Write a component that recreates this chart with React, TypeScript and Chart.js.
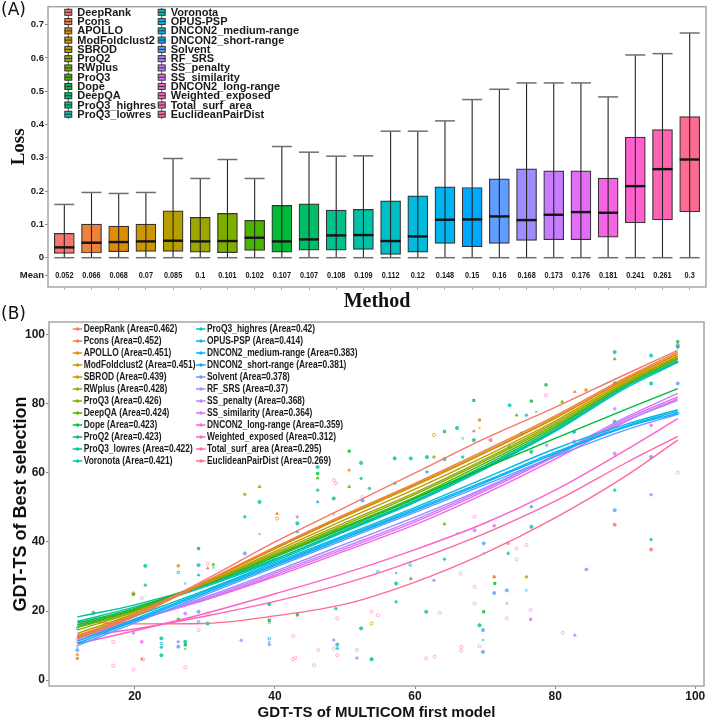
import React, { useEffect, useRef } from 'react';
import { Chart, registerables } from 'chart.js';

Chart.register(...registerables);

// ---------------- Panel A data ----------------
const methodsA = ['DeepRank', 'Pcons', 'APOLLO', 'ModFoldclust2', 'SBROD', 'ProQ2', 'RWplus', 'ProQ3', 'Dope', 'DeepQA', 'ProQ3_highres', 'ProQ3_lowres', 'Voronota', 'OPUS-PSP', 'DNCON2_medium-range', 'DNCON2_short-range', 'Solvent', 'RF_SRS', 'SS_penalty', 'SS_similarity', 'DNCON2_long-range', 'Weighted_exposed', 'Total_surf_area', 'EuclideanPairDist'];
const meanLoss = [0.052, 0.066, 0.068, 0.07, 0.085, 0.1, 0.101, 0.102, 0.107, 0.107, 0.108, 0.109, 0.112, 0.12, 0.148, 0.15, 0.16, 0.168, 0.173, 0.176, 0.181, 0.241, 0.261, 0.3];
const whiskerLow = [0, 0, 0, 0, 0, 0, 0, 0, 0, 0, 0, 0, 0, 0, 0, 0, 0, 0, 0, 0, 0, 0, 0, 0];
const q1Loss = [0.013, 0.014, 0.018, 0.019, 0.019, 0.017, 0.015, 0.022, 0.017, 0.023, 0.023, 0.025, 0.010, 0.017, 0.043, 0.033, 0.043, 0.052, 0.054, 0.054, 0.062, 0.105, 0.114, 0.138];
const medianLoss = [0.031, 0.045, 0.047, 0.049, 0.051, 0.049, 0.05, 0.06, 0.049, 0.055, 0.067, 0.068, 0.05, 0.064, 0.114, 0.115, 0.124, 0.113, 0.129, 0.137, 0.135, 0.215, 0.266, 0.295];
const q3Loss = [0.073, 0.101, 0.095, 0.101, 0.141, 0.121, 0.133, 0.112, 0.157, 0.162, 0.143, 0.145, 0.171, 0.186, 0.213, 0.211, 0.237, 0.267, 0.261, 0.261, 0.239, 0.362, 0.385, 0.424];
const whiskerHigh = [0.16, 0.196, 0.193, 0.196, 0.298, 0.238, 0.295, 0.238, 0.334, 0.317, 0.305, 0.306, 0.38, 0.38, 0.411, 0.475, 0.506, 0.525, 0.525, 0.525, 0.483, 0.609, 0.613, 0.675];
const yTickValuesA = [-0.054, 0, 0.1, 0.2, 0.3, 0.4, 0.5, 0.6, 0.7];
const yTickLabelsA = ['Mean', '0', '0.1', '0.2', '0.3', '0.4', '0.5', '0.6', '0.7'];

// ---------------- Panel B data ----------------
const methodsB = ['DeepRank', 'Pcons', 'APOLLO', 'ModFoldclust2', 'SBROD', 'RWplus', 'ProQ3', 'DeepQA', 'Dope', 'ProQ2', 'ProQ3_lowres', 'Voronota', 'ProQ3_highres', 'OPUS-PSP', 'DNCON2_medium-range', 'DNCON2_short-range', 'Solvent', 'RF_SRS', 'SS_penalty', 'SS_similarity', 'DNCON2_long-range', 'Weighted_exposed', 'Total_surf_area', 'EuclideanPairDist'];
const areasB = [0.462, 0.452, 0.451, 0.451, 0.439, 0.428, 0.426, 0.424, 0.423, 0.423, 0.422, 0.421, 0.42, 0.414, 0.383, 0.381, 0.378, 0.37, 0.368, 0.364, 0.359, 0.312, 0.295, 0.269];
const curveX = [11.8, 20, 30, 40, 50, 60, 70, 80, 90, 97.5];
const curveY: number[][] = [
  [12.5, 19, 29, 40, 50, 60, 70, 79, 88.5, 95.5],
  [12.0, 18.5, 28.5, 38.5, 48, 57, 66.5, 76.5, 87.5, 95],
  [12.2, 18.5, 28.3, 38.2, 47.6, 56.6, 66, 76, 87, 94.5],
  [12.8, 19, 28.3, 38, 47.4, 56.3, 65.8, 75.8, 87, 94.3],
  [13.5, 19.3, 28, 37.3, 46.5, 55.3, 64.8, 75, 86.5, 93.8],
  [14.5, 19.8, 28, 36.8, 45.6, 54.3, 64, 74.5, 86, 93.5],
  [15.2, 20, 27.8, 36.3, 45, 53.8, 63.5, 74, 86, 93.5],
  [16, 20.5, 27.8, 36, 44.5, 53, 62.8, 73.5, 85.5, 93],
  [16.5, 20.8, 28, 36, 44.3, 52.8, 61.5, 70, 78.3, 84.4],
  [15.5, 20.3, 27.5, 35.6, 44, 52.5, 62.2, 73, 85.5, 93],
  [18.3, 21.8, 27.6, 35, 43.5, 52, 61.7, 72.5, 85, 92.5],
  [17, 21.2, 27.4, 35, 43.3, 51.8, 61.5, 72.3, 85, 92.2],
  [16, 20.5, 27, 34.5, 43, 51.5, 61.2, 72, 84.5, 92],
  [12.3, 18.5, 26, 34, 42, 50, 58.5, 67, 74, 78.3],
  [11.2, 17.7, 25.6, 33.6, 41.6, 49.5, 57.6, 66, 73.5, 77.8],
  [10.6, 17.2, 25.2, 33.2, 41.2, 49.1, 57.2, 65.6, 73.2, 77.3],
  [10, 16.6, 24.7, 32.7, 40.7, 48.6, 56.6, 64.8, 72.4, 77],
  [11.5, 17, 24, 31.5, 39.4, 47.2, 55.7, 65, 75, 81],
  [12, 17.2, 23.6, 31, 38.6, 46.4, 55.3, 65.3, 76, 83],
  [12.5, 17.2, 23.3, 30.5, 38, 45.8, 54.8, 64.8, 75.5, 82],
  [13, 17.5, 23.2, 30, 37.4, 45, 54, 64, 74.8, 81.5],
  [10.5, 14.3, 19.3, 25, 31, 37.8, 45.5, 55, 66.5, 75.7],
  [12.5, 14.8, 18.5, 22.8, 28, 34.7, 42.5, 51.8, 62.8, 70.6],
  [17, 16.3, 16.4, 18.6, 22, 28.4, 36.8, 47, 59, 69.5],
];
// [method index (methodsB), GDT-TS first model, GDT-TS best selection]
const scatterB: [number, number, number][] = [
  [2, 11.8, 6.3], [1, 11.8, 7.4], [16, 11.8, 8.7], [15, 11.8, 9.7], [22, 11.8, 12.1], [14, 11.8, 15], [21, 11.8, 11.2],
  [10, 14.1, 19.5], [22, 16.9, 4.2], [23, 16.9, 11.1],
  [22, 19.8, 3.1], [17, 19.8, 13.6], [4, 19.8, 25.1], [8, 19.8, 24.9],
  [1, 21, 6.1], [21, 21.2, 6], [20, 21, 11.1], [22, 21, 23.7], [10, 21.5, 33.1], [11, 21.5, 27.5],
  [10, 23.8, 12.1], [11, 23.8, 9.5], [10, 23.8, 7.2], [14, 23.8, 10.6],
  [2, 26.2, 33.1], [14, 26.2, 31.2], [8, 26.2, 17.6], [17, 26.2, 11.1], [16, 26.2, 9.7],
  [15, 27.2, 28], [18, 27.2, 19.3], [10, 27.2, 11.1], [9, 27.2, 9], [23, 27.2, 3.7], [8, 27.2, 10.2],
  [8, 29.1, 38.1], [12, 29.1, 33.3], [13, 29.1, 30.4], [16, 29.1, 19.8], [14, 29.1, 16.9], [21, 29.1, 14.5],
  [1, 30.4, 32.4], [22, 30.4, 33.8], [23, 30.4, 19.3], [10, 30.4, 16.4],
  [7, 31.2, 33.5], [9, 31.2, 32.6],
  [17, 35.2, 11.5], [5, 35.7, 53.8], [11, 35.7, 47.3], [16, 35.7, 36.7],
  [7, 37.8, 56], [10, 37.8, 51.6], [15, 37.8, 42.3],
  [1, 40.3, 48.2], [4, 40.3, 46.8], [8, 39.2, 17.3], [9, 39.2, 16.6], [14, 39.2, 12], [17, 39.2, 10.3], [15, 39.2, 11], [10, 39.2, 22], [22, 39.2, 18],
  [17, 43.2, 47.3], [10, 43.2, 45.4], [13, 43.2, 43], [15, 43.2, 41.4],
  [22, 42.6, 6], [21, 42.9, 6.5], [23, 42.6, 12.8], [3, 43.2, 18.5], [8, 43.2, 19],
  [10, 46.1, 61.7], [8, 46.1, 59.8], [7, 46.1, 58.5], [11, 46.1, 55], [13, 46.1, 51.6],
  [22, 45.6, 4.3], [21, 46.2, 8.7],
  [23, 48.4, 57.9], [22, 48.7, 57], [10, 48.4, 52.6], [9, 48.4, 48], [11, 48.4, 46.2],
  [17, 48.4, 11.6], [22, 48.4, 9.2], [12, 48.9, 10.3], [13, 48.9, 9.2], [22, 48.9, 7.2], [11, 48.7, 20.7], [21, 48.9, 17.9],
  [8, 50.6, 66.3], [1, 50.6, 60.8], [7, 50.6, 56],
  [10, 52.3, 62.9], [11, 52.3, 58.4], [21, 52.5, 53], [12, 52.5, 52],
  [21, 51.7, 8.7], [17, 51.7, 6.4], [10, 52.3, 15],
  [11, 53.5, 55.5], [23, 53.8, 19.8], [4, 53.8, 16.4], [9, 53.8, 6.3], [10, 53.8, 6],
  [14, 54.7, 31.4], [22, 54.7, 18.8],
  [10, 57.1, 64.2], [11, 57.1, 57], [9, 57.3, 31], [10, 57.3, 28], [11, 57.3, 22.7],
  [7, 59.4, 29.4], [12, 59.4, 64.2], [15, 59.3, 34.2], [14, 59.3, 33.3],
  [10, 61.7, 64.6], [11, 61.7, 60.3], [10, 61.6, 19.8], [22, 61.6, 6.3],
  [4, 62.7, 71], [5, 62.7, 64.6], [17, 62.7, 28.9], [22, 62.8, 6.8], [21, 63.5, 19.5],
  [8, 64.2, 72], [10, 64.2, 64], [7, 64.2, 45.2], [11, 64.2, 35],
  [10, 66, 73], [15, 66, 42.5], [22, 66.5, 30.9], [22, 66.6, 9.6], [23, 66.6, 8.5], [9, 66.8, 70], [11, 66.8, 64.6],
  [8, 68.4, 81], [1, 68.4, 72.1], [10, 68.4, 69.5], [21, 68.5, 47.3], [18, 68.5, 43.4], [22, 68.5, 27], [23, 68.5, 22.2],
  [2, 69.2, 75.3], [3, 69.2, 73], [10, 69.2, 15.9], [22, 69.2, 9.8], [16, 69.7, 14.5], [15, 69.7, 11.6], [16, 69.7, 8.2], [8, 69.8, 19.8], [16, 69.8, 39.6], [15, 69.8, 36.7],
  [0, 70.8, 69.5], [20, 71.3, 44.7], [2, 71.3, 29.9], [16, 71.3, 25.2], [8, 71.4, 28],
  [12, 73.5, 79.6], [16, 73.5, 67.5], [1, 73.3, 39.6], [11, 73.3, 36.7], [16, 73.1, 26], [15, 73.1, 22.2], [22, 73.1, 17.9],
  [7, 74.5, 76.7], [21, 74.5, 38.1], [22, 74.5, 35],
  [10, 75.2, 71.4], [11, 75.9, 76.7], [22, 75.9, 39.1], [5, 75.9, 29.9], [15, 75.9, 26],
  [8, 76.6, 80.8], [10, 76.6, 66.1], [11, 76.6, 50.2], [12, 76.6, 44.4], [20, 76.5, 17.6], [22, 76.5, 20.3],
  [9, 77.3, 77.7], [8, 78.7, 85.5], [22, 78.7, 82.5], [17, 78.8, 68],
  [7, 81, 80.6], [22, 81.1, 13.7], [17, 82.8, 13],
  [1, 82.8, 83.5], [12, 82.7, 71.9], [18, 82.7, 69],
  [2, 84.4, 84], [17, 84.5, 32.1], [19, 84.4, 32],
  [17, 88.5, 78.6], [10, 88.5, 74.8], [18, 88.5, 65.6], [11, 88.5, 55], [16, 88.5, 49.2], [0, 88.5, 45], [7, 88.5, 93], [10, 88.5, 95], [8, 88.5, 86],
  [10, 93.7, 85.9], [20, 93.7, 73.8], [16, 93.7, 64.6], [17, 93.7, 53.7], [11, 93.7, 40.7], [0, 93.7, 37.8], [12, 93.7, 94],
  [16, 97.5, 85.9], [14, 97.5, 77.2], [22, 97.5, 60.1], [8, 97.5, 98], [10, 97.5, 96.5], [18, 97.5, 97], [9, 97.5, 92],
];
const xTicksB = [20, 40, 60, 80, 100];
const yTicksB = [0, 20, 40, 60, 80, 100];

// ---------------- colours (ggplot hue palette) ----------------
function hclHex(h: number, c: number, l: number): string {
  const rad = (h * Math.PI) / 180;
  const U = c * Math.cos(rad);
  const V = c * Math.sin(rad);
  const Xn = 95.047, Yn = 100.0, Zn = 108.883;
  const den = Xn + 15 * Yn + 3 * Zn;
  const un = (4 * Xn) / den, vn = (9 * Yn) / den;
  const Y = Yn * (l > 7.999592 ? Math.pow((l + 16) / 116, 3) : l / 903.3);
  const u = U / (13 * l) + un;
  const v = V / (13 * l) + vn;
  const X = (9 * Y * u) / (4 * v);
  const Z = -X / 3 - 5 * Y + (3 * Y) / v;
  const x = X / 100, y = Y / 100, z = Z / 100;
  const rl = 3.240479 * x - 1.53715 * y - 0.498535 * z;
  const gl = -0.969256 * x + 1.875992 * y + 0.041556 * z;
  const bl = 0.055648 * x - 0.204043 * y + 1.057311 * z;
  const g = (t: number) => {
    const s = t <= 0.0031308 ? 12.92 * t : 1.055 * Math.pow(t, 1 / 2.4) - 0.055;
    return Math.round(Math.min(1, Math.max(0, s)) * 255);
  };
  return '#' + [g(rl), g(gl), g(bl)].map((n) => n.toString(16).padStart(2, '0')).join('');
}
const huePalette = (n: number) => Array.from({ length: n }, (_, i) => hclHex(15 + (360 * i) / n, 100, 65));
const withAlpha = (hex: string, a: number) => {
  const r = parseInt(hex.slice(1, 3), 16), g = parseInt(hex.slice(3, 5), 16), b = parseInt(hex.slice(5, 7), 16);
  return `rgba(${r},${g},${b},${a})`;
};

const NARROW = "'Liberation Sans Narrow', 'Liberation Sans', Arial, sans-serif";
const SANS = "'Liberation Sans', Arial, sans-serif";

function narrowText(ctx: CanvasRenderingContext2D, text: string, x: number, y: number, sx: number) {
  ctx.save();
  ctx.translate(x, y);
  ctx.scale(sx, 1);
  ctx.fillText(text, 0, 0);
  ctx.restore();
}

export default function App() {
  const refA = useRef<HTMLCanvasElement>(null);
  const refB = useRef<HTMLCanvasElement>(null);

  useEffect(() => {
    const colorsA = huePalette(methodsA.length);
    const colorsB = huePalette(methodsB.length);

    const boxPlugin = {
      id: 'boxExtras',
      beforeDatasetsDraw(chart: any) {
        const { ctx, chartArea } = chart;
        ctx.save();
        ctx.strokeStyle = '#a6a6a6';
        ctx.lineWidth = 1.5;
        ctx.strokeRect(chartArea.left, chartArea.top, chartArea.right - chartArea.left, chartArea.bottom - chartArea.top);
        ctx.restore();
      },
      afterDatasetsDraw(chart: any) {
        const { ctx } = chart;
        const xs = chart.scales.x, ys = chart.scales.y;
        ctx.save();
        methodsA.forEach((_, i) => {
          const px = xs.getPixelForValue(i + 1);
          const half = 10;
          ctx.strokeStyle = '#262626';
          ctx.lineWidth = 1.1;
          ctx.beginPath();
          ctx.moveTo(px, ys.getPixelForValue(whiskerLow[i]));
          ctx.lineTo(px, ys.getPixelForValue(whiskerHigh[i]));
          ctx.stroke();
          ctx.strokeStyle = '#6e6e6e';
          ctx.lineWidth = 1.5;
          [whiskerLow[i], whiskerHigh[i]].forEach((v) => {
            const py = ys.getPixelForValue(v);
            ctx.beginPath();
            ctx.moveTo(px - half, py);
            ctx.lineTo(px + half, py);
            ctx.stroke();
          });
          ctx.strokeStyle = '#141414';
          ctx.lineWidth = 2.4;
          const pm = ys.getPixelForValue(medianLoss[i]);
          ctx.beginPath();
          ctx.moveTo(px - half, pm);
          ctx.lineTo(px + half, pm);
          ctx.stroke();
          ctx.fillStyle = '#1a1a1a';
          ctx.font = `bold 8.5px ${SANS}`;
          ctx.textAlign = 'center';
          ctx.textBaseline = 'middle';
          narrowText(ctx, String(meanLoss[i]), px, ys.getPixelForValue(-0.054), 0.86);
        });
        ctx.restore();
      },
      afterDraw(chart: any) {
        const { ctx } = chart;
        ctx.save();
        ctx.font = `bold 11px ${SANS}`;
        ctx.textBaseline = 'middle';
        ctx.textAlign = 'left';
        methodsA.forEach((m, i) => {
          const col = Math.floor(i / 12), row = i % 12;
          const cx = col === 0 ? 68.3 : 161.7;
          const cy = 12.3 + row * 9.27;
          ctx.strokeStyle = '#333';
          ctx.lineWidth = 1;
          ctx.beginPath();
          ctx.moveTo(cx, cy - 4.5);
          ctx.lineTo(cx, cy + 4.5);
          ctx.stroke();
          ctx.fillStyle = colorsA[i];
          ctx.fillRect(cx - 3.5, cy - 3, 7, 6);
          ctx.strokeRect(cx - 3.5, cy - 3, 7, 6);
          ctx.beginPath();
          ctx.moveTo(cx - 3.5, cy);
          ctx.lineTo(cx + 3.5, cy);
          ctx.stroke();
          ctx.fillStyle = '#1a1a1a';
          ctx.fillText(m, cx + 9, cy + 0.5);
        });
        ctx.restore();
      },
    };

    const chartA = new Chart(refA.current as HTMLCanvasElement, {
      type: 'bar',
      data: {
        datasets: [
          {
            label: 'Loss',
            data: methodsA.map((_, i) => ({ x: i + 1, y: [q1Loss[i], q3Loss[i]] })) as any,
            backgroundColor: colorsA,
            borderColor: '#333333',
            borderWidth: 1.2,
            borderSkipped: false,
            barThickness: 20,
          } as any,
        ],
      },
      options: {
        animation: false,
        responsive: false,
        maintainAspectRatio: false,
        events: [],
        layout: { padding: { top: 6, right: 3, left: 0, bottom: 0 } },
        plugins: { legend: { display: false }, tooltip: { enabled: false } },
        scales: {
          x: {
            type: 'linear',
            min: 0.4,
            max: 24.6,
            offset: false,
            afterBuildTicks: (s: any) => {
              s.ticks = methodsA.map((_, i) => ({ value: i + 1 }));
            },
            afterFit: (s: any) => {
              s.height = 31;
            },
            ticks: { callback: () => '', autoSkip: false, maxRotation: 0 },
            grid: { drawOnChartArea: false, tickLength: 3, color: '#b0b0b0', offset: false },
            border: { display: false },
            title: {
              display: true,
              text: 'Method',
              color: '#111',
              font: { family: "'Liberation Serif', 'Times New Roman', serif", weight: 'bold', size: 20 },
              padding: { top: 0, bottom: 4 },
            },
          },
          y: {
            type: 'linear',
            min: -0.088,
            max: 0.754,
            afterBuildTicks: (s: any) => {
              s.ticks = yTickValuesA.map((v) => ({ value: v }));
            },
            afterFit: (s: any) => {
              s.width = 48;
            },
            ticks: {
              callback: (_v: any, idx: number) => yTickLabelsA[idx],
              color: '#1a1a1a',
              font: { family: NARROW, weight: 'bold', size: 9.5 },
              padding: 1,
              autoSkip: false,
            },
            grid: { drawOnChartArea: false, tickLength: 3, color: '#8a8a8a' },
            border: { display: false },
            title: {
              display: true,
              text: 'Loss',
              color: '#111',
              font: { family: "'Liberation Serif', 'Times New Roman', serif", weight: 'bold', size: 19 },
              padding: { top: 8, bottom: 0 },
            },
          },
        },
      } as any,
      plugins: [boxPlugin as any],
    });

    const shapes = ['circle', 'triangle', 'rect', 'crossRot', 'circle', 'rectRot'];
    const pointSets = methodsB.map((m, k) => {
      const hollow = k >= 21 || k % 5 === 4;
      const a = k >= 21 ? 0.55 : 0.75;
      return {
        type: 'scatter',
        label: m,
        order: 1,
        data: scatterB.filter((p) => p[0] === k).map((p) => ({ x: p[1], y: p[2] })),
        pointStyle: k >= 21 ? 'circle' : shapes[k % shapes.length],
        pointRadius: 1.6,
        pointBorderWidth: 0.9,
        borderColor: withAlpha(colorsB[k], a),
        backgroundColor: hollow ? 'rgba(255,255,255,0)' : withAlpha(colorsB[k], a),
        showLine: false,
      };
    });
    const lineSets = methodsB.map((m, k) => ({
      type: 'line',
      label: m,
      order: 0,
      data: curveX.map((x, j) => ({ x, y: curveY[k][j] })),
      borderColor: colorsB[k],
      borderWidth: 1.4,
      pointRadius: 0,
      fill: false,
      cubicInterpolationMode: 'monotone',
    }));

    const legendB = {
      id: 'legendB',
      beforeDatasetsDraw(chart: any) {
        const { ctx, chartArea } = chart;
        ctx.save();
        ctx.strokeStyle = '#a6a6a6';
        ctx.lineWidth = 1.5;
        ctx.strokeRect(chartArea.left, chartArea.top, chartArea.right - chartArea.left, chartArea.bottom - chartArea.top);
        ctx.restore();
      },
      afterDraw(chart: any) {
        const { ctx } = chart;
        ctx.save();
        ctx.font = `bold 10px ${SANS}`;
        ctx.textBaseline = 'middle';
        ctx.textAlign = 'left';
        methodsB.forEach((m, i) => {
          const col = Math.floor(i / 12), row = i % 12;
          const x0 = col === 0 ? 72.7 : 196;
          const cy = 17 + row * 12;
          ctx.strokeStyle = colorsB[i];
          ctx.lineWidth = 1.5;
          ctx.beginPath();
          ctx.moveTo(x0, cy);
          ctx.lineTo(x0 + 9.5, cy);
          ctx.stroke();
          ctx.fillStyle = colorsB[i];
          ctx.fillRect(x0 + 3.6, cy - 1.5, 2.5, 3);
          ctx.fillStyle = '#1a1a1a';
          narrowText(ctx, `${m} (Area=${areasB[i]})`, x0 + 11, cy + 0.5, 0.84);
        });
        ctx.restore();
      },
    };

    const chartB = new Chart(refB.current as HTMLCanvasElement, {
      type: 'scatter',
      data: { datasets: [...pointSets, ...lineSets] as any },
      options: {
        animation: false,
        responsive: false,
        maintainAspectRatio: false,
        events: [],
        layout: { padding: { top: 10, right: 5, left: 0, bottom: 0 } },
        plugins: { legend: { display: false }, tooltip: { enabled: false } },
        scales: {
          x: {
            type: 'linear',
            min: 7.75,
            max: 101.25,
            afterBuildTicks: (s: any) => {
              s.ticks = xTicksB.map((v) => ({ value: v }));
            },
            afterFit: (s: any) => {
              s.height = 38;
            },
            ticks: { color: '#1a1a1a', font: { family: NARROW, weight: 'bold', size: 12 }, padding: 0, maxRotation: 0, autoSkip: false },
            grid: { drawOnChartArea: false, tickLength: 3, color: '#8a8a8a' },
            border: { display: false },
            title: {
              display: true,
              text: 'GDT-TS of MULTICOM first model',
              color: '#111',
              font: { family: SANS, weight: 'bold', size: 15 },
              padding: { top: 0, bottom: 2 },
            },
          },
          y: {
            type: 'linear',
            min: -1.7,
            max: 103.7,
            afterBuildTicks: (s: any) => {
              s.ticks = yTicksB.map((v) => ({ value: v }));
            },
            afterFit: (s: any) => {
              s.width = 49;
            },
            ticks: { color: '#1a1a1a', font: { family: NARROW, weight: 'bold', size: 12 }, padding: 1, autoSkip: false },
            grid: { drawOnChartArea: false, tickLength: 3, color: '#8a8a8a' },
            border: { display: false },
            title: {
              display: true,
              text: 'GDT-TS of Best selection',
              color: '#111',
              font: { family: SANS, weight: 'bold', size: 18 },
              padding: { top: 10, bottom: 0 },
            },
          },
        },
      } as any,
      plugins: [legendB as any],
    });

    return () => {
      chartA.destroy();
      chartB.destroy();
    };
  }, []);

  const panelLabel: React.CSSProperties = {
    position: 'absolute',
    left: 1,
    fontFamily: "'DejaVu Sans', sans-serif",
    fontSize: 17,
    color: '#111',
    lineHeight: '20px',
  };

  return (
    <div style={{ position: 'fixed', left: 0, top: 0, width: 709, height: 724, background: '#fff', overflow: 'hidden' }}>
      <canvas ref={refA} width={709} height={318} style={{ position: 'absolute', left: 0, top: 0 }} />
      <canvas ref={refB} width={709} height={412} style={{ position: 'absolute', left: 0, top: 312 }} />
      <div style={{ ...panelLabel, top: -1 }}>(A)</div>
      <div style={{ ...panelLabel, top: 303 }}>(B)</div>
    </div>
  );
}
